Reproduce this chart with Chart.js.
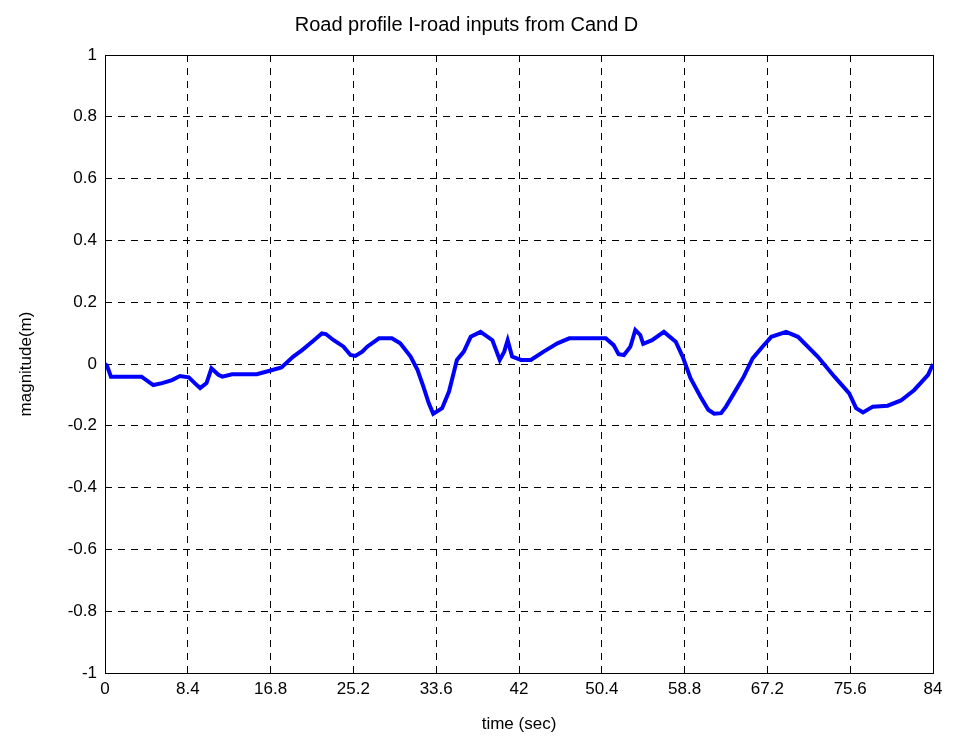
<!DOCTYPE html>
<html>
<head>
<meta charset="utf-8">
<script src="https://cdn.jsdelivr.net/npm/chart.js@4"></script>
<style>
  html, body { margin: 0; padding: 0; background: #fff; }
  #wrap { width: 955px; height: 747px; }
</style>
</head>
<body>
<div id="wrap"><canvas id="roadChart" width="955" height="747"></canvas></div>
<script>
// road profile
const timeSec = [0, 0.2, 0.6, 3.7, 4.9, 5.8, 6.8, 7.6, 8.5, 9.1, 9.65, 10.3, 10.8, 11.5, 11.9, 12.9, 15.4, 16.8, 17.9, 19.1,
  20.0, 21.2, 22.0, 22.4, 23.2, 24.2, 24.9, 25.4, 26.1, 26.6, 27.8, 29.1, 29.95, 31.0, 31.7, 32.3, 32.85, 33.3, 34.2, 34.9,
  35.7, 36.4, 37.1, 38.1, 39.3, 40.05, 40.5, 40.85, 41.3, 42.2, 43.2, 44.5, 45.9, 47.1, 50.8, 51.6, 52.1, 52.65, 53.3, 53.8,
  54.3, 54.6, 55.5, 56.7, 57.9, 58.6, 59.4, 60.4, 61.2, 61.8, 62.5, 63.0, 63.8, 64.8, 65.7, 66.7, 67.6, 69.1, 70.3, 72.3,
  74.0, 75.5, 76.2, 76.9, 77.9, 79.4, 80.75, 82.1, 83.5, 84];
const magnitude = [0, -0.005, -0.041, -0.041, -0.068, -0.062, -0.052, -0.039, -0.043, -0.062, -0.078, -0.062, -0.014, -0.035, -0.041, -0.033, -0.033, -0.021, -0.011, 0.024,
  0.045, 0.077, 0.099, 0.097, 0.077, 0.056, 0.029, 0.026, 0.040, 0.056, 0.083, 0.083, 0.067, 0.024, -0.019, -0.073, -0.127, -0.161, -0.143, -0.089,
  0.013, 0.040, 0.088, 0.104, 0.077, 0.013, 0.040, 0.077, 0.024, 0.013, 0.013, 0.040, 0.067, 0.083, 0.083, 0.061, 0.032, 0.029, 0.056, 0.11,
  0.094, 0.065, 0.077, 0.104, 0.072, 0.024, -0.046, -0.105, -0.148, -0.161, -0.159, -0.138, -0.095, -0.041, 0.018, 0.056, 0.088, 0.104, 0.088, 0.024,
  -0.041, -0.095, -0.143, -0.157, -0.138, -0.135, -0.118, -0.084, -0.035, 0];

const xTicks = [0, 8.4, 16.8, 25.2, 33.6, 42, 50.4, 58.8, 67.2, 75.6, 84];
const yTicks = [-1, -0.8, -0.6, -0.4, -0.2, 0, 0.2, 0.4, 0.6, 0.8, 1];

let points = [];
for (let i = 0; i < Math.min(timeSec.length, magnitude.length); i++) {
  points.push({ x: timeSec[i], y: magnitude[i] });
}

const font = { family: "'Liberation Sans', Arial, sans-serif", size: 17 };

// black box round the plot area, like matlab
const boxPlugin = {
  id: 'box',
  afterDatasetsDraw(chart) {
    const a = chart.chartArea;
    const ctx = chart.ctx;
    ctx.save();
    ctx.strokeStyle = '#000';
    ctx.lineWidth = 1;
    ctx.setLineDash([]);
    ctx.strokeRect(a.left + 0.5, a.top + 0.5, a.right - a.left, a.bottom - a.top);
    ctx.restore();
  }
};

new Chart(document.getElementById("roadChart"), {
  type: 'scatter',
  data: {
    datasets: [{
      data: points,
      showLine: true,
      borderColor: '#0000ff',
      borderWidth: 4,
      pointRadius: 0,
      tension: 0
    }]
  },
  options: {
    responsive: false,
    animation: false,
    layout: { padding: { left: 0, right: 22, top: 0, bottom: 0 } },
    plugins: {
      legend: { display: false },
      tooltip: { enabled: false },
      title: {
        display: true,
        text: 'Road profile I-road inputs from Cand D',
        color: '#000',
        font: { family: font.family, size: 20, weight: 'normal' },
        padding: { top: 13, bottom: 18 }
      }
    },
    scales: {
      x: {
        type: 'linear',
        min: 0,
        max: 84,
        afterBuildTicks(scale) { scale.ticks = xTicks.map(v => ({ value: v })); },
        afterFit(scale) { scale.height = 74; },
        ticks: { color: '#000', font: font, padding: 6, maxRotation: 0, autoSkip: false,
          callback: v => String(v) },
        grid: { color: '#000', lineWidth: 1, drawTicks: false },
        border: { display: false, dash: [7, 6] },
        title: { display: true, text: 'time (sec)', color: '#000', font: font, padding: { top: 0, bottom: 12 } }
      },
      y: {
        type: 'linear',
        min: -1,
        max: 1,
        afterBuildTicks(scale) { scale.ticks = yTicks.map(v => ({ value: v })); },
        afterFit(scale) { scale.width = 105; },
        ticks: { color: '#000', font: font, padding: 8, autoSkip: false,
          callback: v => String(Math.round(v * 10) / 10) },
        grid: { color: '#000', lineWidth: 1, drawTicks: false },
        border: { display: false, dash: [7, 6] },
        title: { display: true, text: 'magnitude(m)', color: '#000', font: font, padding: { top: 16, bottom: 0 } }
      }
    }
  },
  plugins: [boxPlugin]
});
</script>
</body>
</html>
